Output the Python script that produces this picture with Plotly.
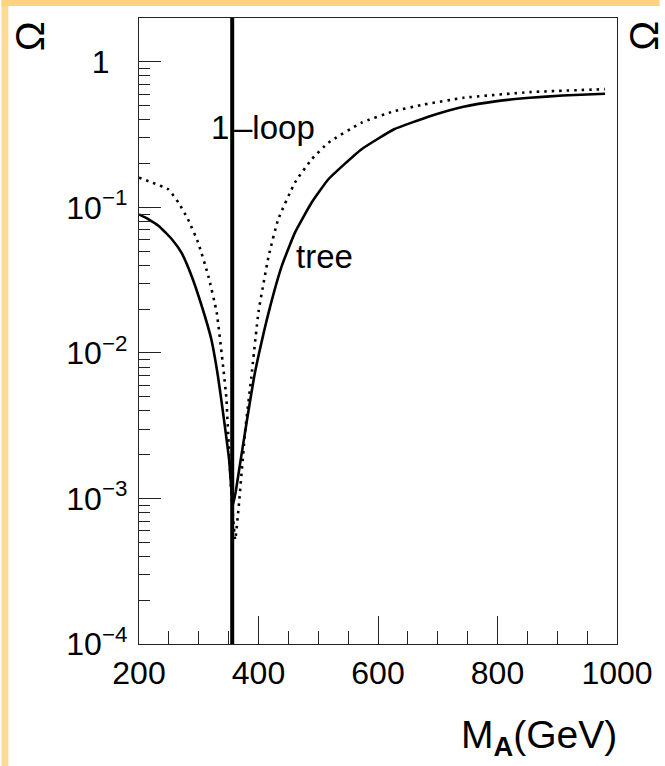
import plotly.graph_objects as go

# ---------------- data ----------------
tree_mass = [200, 216, 233, 255, 271, 288, 305, 321, 332, 341, 351, 357, 362,
             370, 380, 392, 400, 417, 439, 461, 489, 517, 572, 627, 688, 743,
             799, 854, 909, 980]
tree_omega = [0.0895, 0.0828, 0.0745, 0.0604, 0.0489, 0.0338, 0.0210, 0.0124,
              0.00697, 0.0038, 0.00182, 0.00089, 0.00112, 0.00182, 0.00331,
              0.0066, 0.00955, 0.0190, 0.0396, 0.0671, 0.108, 0.156, 0.250,
              0.344, 0.424, 0.491, 0.537, 0.566, 0.587, 0.603]

loop_mass = [200, 222, 249, 266, 282, 299, 316, 330, 341, 346, 350, 355, 361,
             367, 378, 388, 400, 417, 433, 461, 489, 517, 572, 627, 677, 743,
             854, 980]
loop_omega = [0.160, 0.148, 0.133, 0.108, 0.0828, 0.0573, 0.0338, 0.0190,
              0.0079, 0.0050, 0.0024, 0.0010, 0.00052, 0.00089, 0.0030, 0.0068,
              0.0191, 0.0463, 0.0828, 0.148, 0.214, 0.278, 0.381, 0.458, 0.509,
              0.566, 0.619, 0.649]

threshold_mass = 356          # vertical line position (GeV)
x_range = [200, 1000]
y_range = [1e-4, 2]

x_major = [200, 400, 600, 800, 1000]
x_major_text = ["200", "400", "600", "800", "1000"]
x_minor = [250, 300, 350, 450, 500, 550, 650, 700, 750, 850, 900, 950]

y_major = [1e-4, 1e-3, 1e-2, 1e-1, 1]
y_major_text = ["10<sup>\u22124</sup>", "10<sup>\u22123</sup>",
                "10<sup>\u22122</sup>", "10<sup>\u22121</sup>",
                "1\u00a0\u00a0"]
y_minor = [m * 10.0 ** e for e in range(-4, 1) for m in range(2, 10)
           if m * 10.0 ** e <= 2.0001]

FONT = "Liberation Sans, Arial, Helvetica, sans-serif"
AX = "#222222"

# ---------------- figure ----------------
fig = go.Figure()
fig.add_trace(go.Scatter(x=tree_mass, y=tree_omega, mode="lines",
                         line=dict(color="black", width=2.6, shape="spline",
                                   smoothing=0.4),
                         showlegend=False, hoverinfo="skip"))
fig.add_trace(go.Scatter(x=loop_mass, y=loop_omega, mode="lines",
                         line=dict(color="black", width=2.6, dash="2.5px,5px",
                                   shape="spline", smoothing=0.4),
                         showlegend=False, hoverinfo="skip"))
fig.add_trace(go.Scatter(x=[threshold_mass, threshold_mass], y=y_range,
                         mode="lines", line=dict(color="black", width=4),
                         showlegend=False, hoverinfo="skip"))

W, H = 665, 766
ML, MR, MT, MB = 139, 43, 18, 122
PW, PH = W - ML - MR, H - MT - MB


def px_x(p):
    return (p - ML) / PW


def px_y(p):
    return (H - MB - p) / PH


fig.update_layout(
    width=W, height=H,
    margin=dict(l=ML, r=MR, t=MT, b=MB, pad=0),
    paper_bgcolor="white", plot_bgcolor="white",
    font=dict(family=FONT, size=32, color="black"),
    showlegend=False,
    xaxis=dict(range=x_range, showgrid=False, zeroline=False,
               showline=True, linecolor=AX, linewidth=1.3, mirror=True,
               tickmode="array", tickvals=x_major, ticktext=x_major_text,
               ticks="inside", ticklen=28, tickwidth=1.3, tickcolor=AX,
               ticklabelstandoff=0,
               minor=dict(tickmode="array", tickvals=x_minor, ticks="inside",
                          ticklen=13, tickwidth=1.3, tickcolor=AX),
               tickfont=dict(family=FONT, size=32, color="black")),
    yaxis=dict(type="log", range=[-4, 0.30103], showgrid=False,
               zeroline=False, showline=True, linecolor=AX, linewidth=1.3,
               mirror=True, tickmode="array", tickvals=y_major,
               ticktext=y_major_text, ticks="inside", ticklen=22,
               tickwidth=1.3, tickcolor=AX, ticklabelstandoff=4,
               minor=dict(tickmode="array", tickvals=y_minor, ticks="inside",
                          ticklen=11, tickwidth=1.3, tickcolor=AX),
               tickfont=dict(family=FONT, size=32, color="black")),
)

# orange frame strips (left and top)
fig.add_shape(type="rect", xref="paper", yref="paper", layer="above",
              x0=px_x(0), x1=px_x(7), y0=px_y(H), y1=px_y(0),
              fillcolor="#FFDA94", line=dict(width=0))
fig.add_shape(type="rect", xref="paper", yref="paper", layer="above",
              x0=px_x(0), x1=px_x(W), y0=px_y(6), y1=px_y(0),
              fillcolor="#FDD47E", line=dict(width=0))

# curve labels
fig.add_annotation(x=px_x(232), y=px_y(128), xref="paper", yref="paper",
                   text="1", showarrow=False, xanchor="right", yanchor="middle",
                   font=dict(family=FONT, size=33, color="black"))
fig.add_annotation(x=px_x(233), y=px_y(128), xref="paper", yref="paper",
                   text="\u2013loop", showarrow=False, xanchor="left",
                   yanchor="middle",
                   font=dict(family=FONT, size=33, color="black"))
fig.add_annotation(x=px_x(296), y=px_y(256), xref="paper", yref="paper",
                   text="tree", showarrow=False, xanchor="left",
                   yanchor="middle",
                   font=dict(family=FONT, size=33, color="black"))

# axis titles
fig.add_annotation(x=px_x(624), y=px_y(737), xref="paper", yref="paper",
                   text="M<sub><b>A</b></sub>(GeV)", showarrow=False,
                   xanchor="right", yanchor="middle",
                   font=dict(family=FONT, size=39, color="black"))
for cx in (29, 649):
    fig.add_annotation(x=px_x(cx), y=px_y(36), xref="paper", yref="paper",
                       text="\u03a9", showarrow=False, textangle=-90,
                       xanchor="center", yanchor="middle",
                       font=dict(family=FONT, size=40, color="black"))

fig.write_html("out.html")
